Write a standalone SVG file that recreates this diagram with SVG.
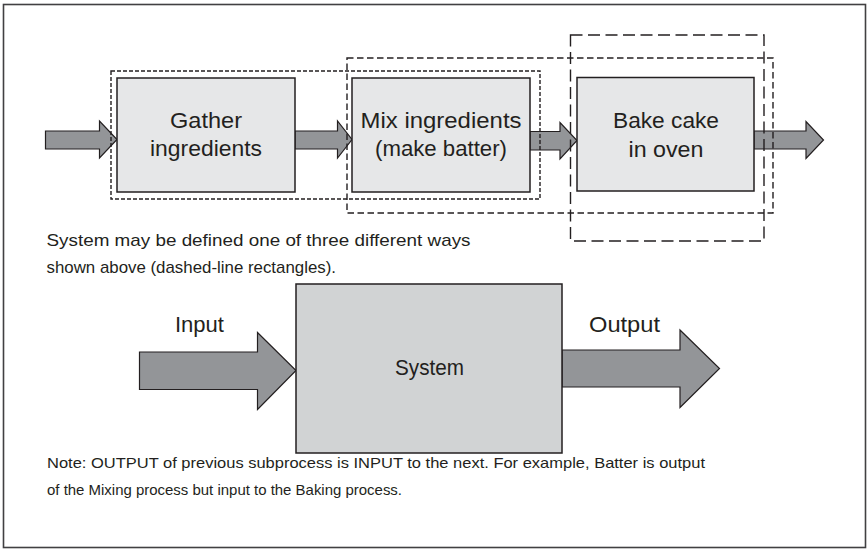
<svg xmlns="http://www.w3.org/2000/svg" width="867" height="549" viewBox="0 0 867 549">
  <style>
    .frame { fill: #ffffff; stroke: #414042; stroke-width: 1.6; }
    .box { fill: #e6e7e8; stroke: #231f20; stroke-width: 1.5; }
    .sys { fill: #d1d3d4; stroke: #231f20; stroke-width: 1.5; }
    .arrow { fill: #939598; stroke: #231f20; stroke-width: 1.2; stroke-linejoin: miter; }
    .dash-a { fill: none; stroke: #231f20; stroke-width: 1.4; stroke-dasharray: 4 2; }
    .dash-b { fill: none; stroke: #231f20; stroke-width: 1.4; stroke-dasharray: 6.5 3.5; }
    .dash-c { fill: none; stroke: #231f20; stroke-width: 1.4; stroke-dasharray: 12 5.5; }
    text { font-family: "Liberation Sans", Arial, sans-serif; fill: #231f20; }
    .label { font-size: 22px; text-anchor: middle; }
    .caption { font-size: 17px; }
    .note { font-size: 15px; }
  </style>

  <!-- outer frame -->
  <rect class="frame" x="3.5" y="4.5" width="862" height="543"/>

  <!-- flow arrows -->
  <g id="connectors">
    <path class="arrow" d="M45.5,131 H99.5 V121 L117,139.5 L99.5,158 V149 H45.5 Z"/>
    <path class="arrow" d="M295,131 H337.5 V121 L352,139.5 L337.5,158 V149 H295 Z"/>
    <path class="arrow" d="M530,131.5 H560 V122.5 L577,140.5 L560,159 V150 H530 Z"/>
    <path class="arrow" d="M754,131 H806 V121.5 L823.5,140 L806,158.5 V149 H754 Z"/>
    <path class="arrow" d="M139.5,352 H257.5 V332.5 L296,370.5 L257.5,409.5 V389.5 H139.5 Z"/>
    <path class="arrow" d="M562,350 H680 V330 L719.5,368.5 L680,407.5 V387 H562 Z"/>
  </g>

  <!-- process steps -->
  <g id="gather">
    <rect class="box" x="117" y="78" width="178" height="114"/>
    <text class="label" x="206" y="127.5" textLength="72" lengthAdjust="spacingAndGlyphs">Gather</text>
    <text class="label" x="206" y="156" textLength="112" lengthAdjust="spacingAndGlyphs">ingredients</text>
  </g>
  <g id="mix">
    <rect class="box" x="352" y="78" width="178" height="114"/>
    <text class="label" x="441" y="127.5" textLength="161" lengthAdjust="spacingAndGlyphs">Mix ingredients</text>
    <text class="label" x="441" y="156" textLength="132" lengthAdjust="spacingAndGlyphs">(make batter)</text>
  </g>
  <g id="bake">
    <rect class="box" x="577" y="77.5" width="177" height="113.5"/>
    <text class="label" x="666" y="128" textLength="106" lengthAdjust="spacingAndGlyphs">Bake cake</text>
    <text class="label" x="666" y="156.5" textLength="75" lengthAdjust="spacingAndGlyphs">in oven</text>
  </g>

  <!-- alternative system boundaries -->
  <g id="boundaries">
    <rect class="dash-a" x="111" y="71" width="429" height="128"/>
    <rect class="dash-b" x="347" y="58" width="426" height="155"/>
    <rect class="dash-c" x="570.5" y="35" width="193.5" height="206"/>
  </g>

  <g id="caption">
    <text class="caption" x="46.5" y="246" textLength="424" lengthAdjust="spacingAndGlyphs">System may be defined one of three different ways</text>
    <text class="caption" x="46.5" y="273" textLength="289.5" lengthAdjust="spacingAndGlyphs">shown above (dashed-line rectangles).</text>
  </g>

  <!-- generic system model -->
  <g id="input-label">
    <text class="label" x="199.5" y="331.5" textLength="49" lengthAdjust="spacingAndGlyphs">Input</text>
  </g>
  <g id="system">
    <rect class="sys" x="296" y="284" width="266" height="169"/>
    <text class="label" x="429.5" y="375" textLength="69" lengthAdjust="spacingAndGlyphs">System</text>
  </g>
  <g id="output-label">
    <text class="label" x="624.5" y="332" textLength="71" lengthAdjust="spacingAndGlyphs">Output</text>
  </g>

  <g id="note">
    <text class="note" x="47" y="468" textLength="658" lengthAdjust="spacingAndGlyphs">Note: OUTPUT of previous subprocess is INPUT to the next. For example, Batter is output</text>
    <text class="note" x="47" y="495" textLength="355" lengthAdjust="spacingAndGlyphs">of the Mixing process but input to the Baking process.</text>
  </g>
</svg>
